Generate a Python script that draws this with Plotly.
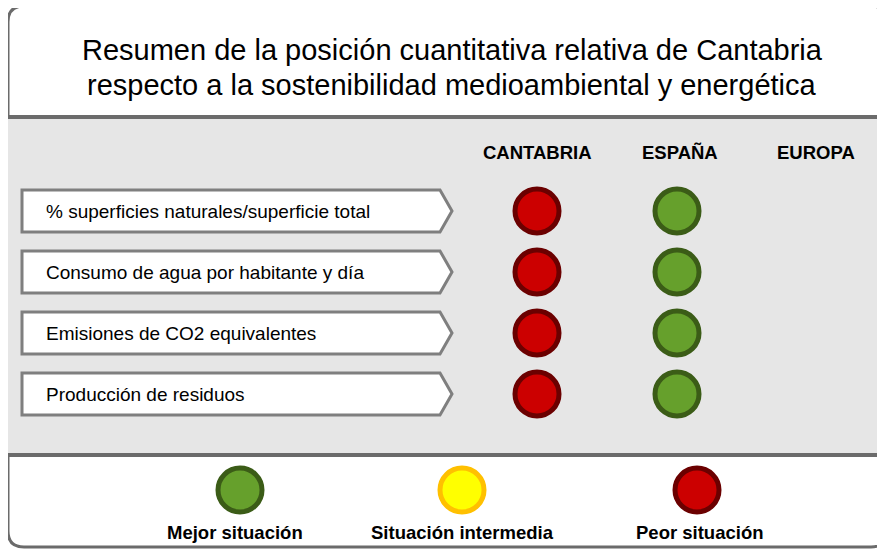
import plotly.graph_objects as go

# ---------------- data ----------------
title_lines = [
    "Resumen de la posición cuantitativa relativa de Cantabria",
    "respecto a la sostenibilidad medioambiental y energética",
]
columns = ["CANTABRIA", "ESPAÑA", "EUROPA"]
indicators = [
    "% superficies naturales/superficie total",
    "Consumo de agua por habitante y día",
    "Emisiones de CO2 equivalentes",
    "Producción de residuos",
]
# status per column: "peor", "intermedia", "mejor" or None (no data)
status_cantabria = ["peor", "peor", "peor", "peor"]
status_espana = ["mejor", "mejor", "mejor", "mejor"]
status_europa = [None, None, None, None]
legend_keys = ["mejor", "intermedia", "peor"]
legend_labels = ["Mejor situación", "Situación intermedia", "Peor situación"]

# ---------------- styles / layout ----------------
W, H = 885, 549
OFF = 8  # page body margin: data coordinates = screen pixels
FONT = "Liberation Sans, Arial, sans-serif"
STYLE = {
    "mejor": dict(fill="#66a02c", line="#3b5c17"),
    "intermedia": dict(fill="#ffff00", line="#ffc000"),
    "peor": dict(fill="#cc0000", line="#6b0000"),
}
col_x = [537, 677, 816]
header_x = [537, 680, 816]
row_y0, row_dy = 211, 61
legend_x = [240, 462, 697]
legend_label_x = [235, 462, 699]
legend_y = 490

fig = go.Figure()

shapes = []
# outer frame with rounded corners
L, R, T, B, rad = 8, 887, 6, 547, 16
frame = (f"M {L+rad},{T} L {R-rad},{T} Q {R},{T} {R},{T+rad} L {R},{B-rad} Q {R},{B} {R-rad},{B} "
         f"L {L+rad},{B} Q {L},{B} {L},{B-rad} L {L},{T+rad} Q {L},{T} {L+rad},{T} Z")
shapes.append(dict(type="path", path=frame, fillcolor="white", line=dict(color="#6b6b6b", width=3), layer="below"))
# gray band
shapes.append(dict(type="rect", x0=L, x1=R, y0=117, y1=455, fillcolor="#e6e6e6", line=dict(width=0), layer="below"))
shapes.append(dict(type="line", x0=L, x1=R, y0=117, y1=117, line=dict(color="#6b6b6b", width=4)))
shapes.append(dict(type="line", x0=L, x1=R, y0=455, y1=455, line=dict(color="#6b6b6b", width=4)))
# indicator boxes
for i, name in enumerate(indicators):
    yc = row_y0 + i * row_dy
    y0, y1 = yc - 21, yc + 21
    p = f"M 22,{y0} L 440,{y0} L 452,{yc} L 440,{y1} L 22,{y1} Z"
    shapes.append(dict(type="path", path=p, fillcolor="white", line=dict(color="#7f7f7f", width=3)))

annotations = []
for k, t in enumerate(title_lines):
    annotations.append(dict(x=452, y=50 + 35 * k, text=t, showarrow=False, xanchor="center", yanchor="middle",
                            font=dict(family=FONT, size=29, color="#000")))
for cx, c in zip(header_x, columns):
    annotations.append(dict(x=cx, y=152, text=f"<b>{c}</b>", showarrow=False, xanchor="center", yanchor="middle",
                            font=dict(family=FONT, size=18.5, color="#000")))
for i, name in enumerate(indicators):
    annotations.append(dict(x=44, y=row_y0 + i * row_dy, text=name, showarrow=False, xanchor="left", yanchor="middle",
                            font=dict(family=FONT, size=19, color="#000")))
for lx, lab in zip(legend_label_x, legend_labels):
    annotations.append(dict(x=lx, y=532, text=f"<b>{lab}</b>", showarrow=False, xanchor="center", yanchor="middle",
                            font=dict(family=FONT, size=18.5, color="#000")))

# status circles
for cx, statuses in zip(col_x, [status_cantabria, status_espana, status_europa]):
    for key in STYLE:
        ys = [row_y0 + i * row_dy for i, s in enumerate(statuses) if s == key]
        if not ys:
            continue
        fig.add_trace(go.Scatter(x=[cx] * len(ys), y=ys, mode="markers", hoverinfo="skip",
                                 marker=dict(size=44, color=STYLE[key]["fill"],
                                             line=dict(color=STYLE[key]["line"], width=5))))
# legend circles
for lx, key in zip(legend_x, legend_keys):
    fig.add_trace(go.Scatter(x=[lx], y=[legend_y], mode="markers", hoverinfo="skip",
                             marker=dict(size=44, color=STYLE[key]["fill"],
                                         line=dict(color=STYLE[key]["line"], width=5))))

fig.update_layout(
    width=W, height=H, margin=dict(l=0, r=0, t=0, b=0),
    paper_bgcolor="white", plot_bgcolor="white", showlegend=False,
    xaxis=dict(range=[OFF, W + OFF], visible=False, fixedrange=True),
    yaxis=dict(range=[H + OFF, OFF], visible=False, fixedrange=True),
    shapes=shapes, annotations=annotations,
)
fig.write_html("out.html")
